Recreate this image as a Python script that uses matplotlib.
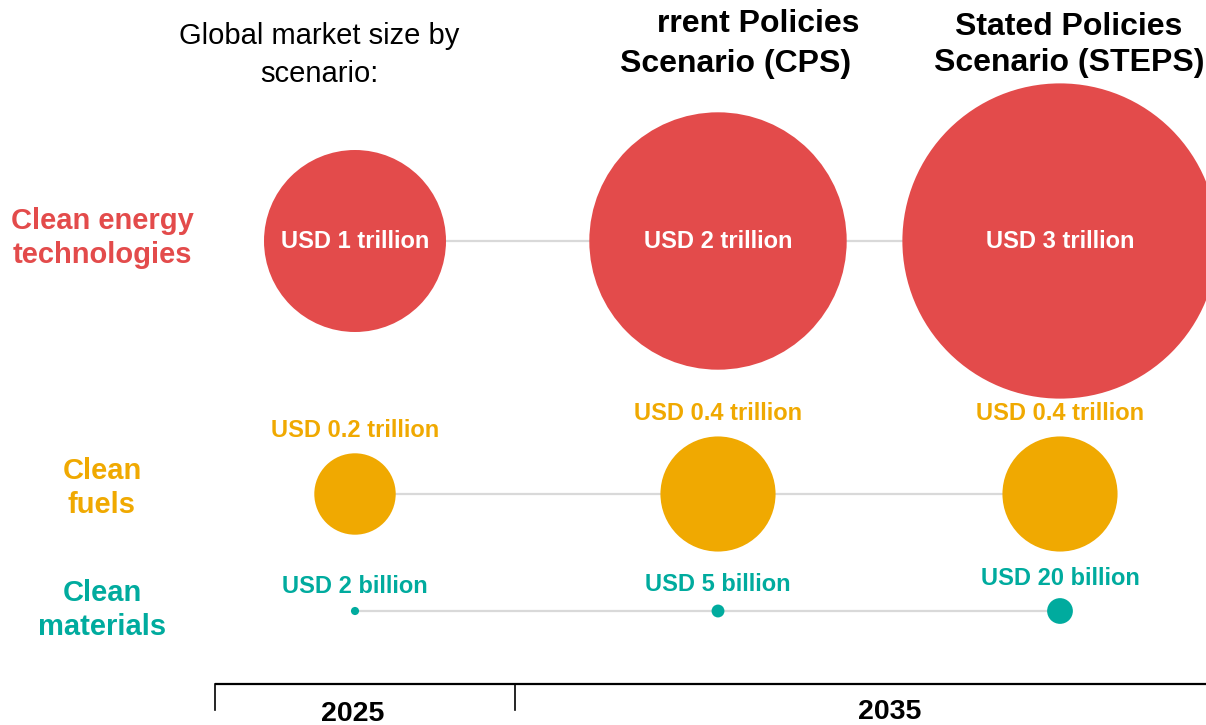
import numpy as np
import matplotlib.pyplot as plt
from matplotlib.patches import Circle


# Market sizes by scenario (trillion USD for the first two rows, billion USD for materials)
scenarios = ["2025", "CPS 2035", "STEPS 2035"]
tech_trillion = [1, 2, 3]
fuels_trillion = [0.2, 0.4, 0.4]
materials_billion = [2, 5, 20]

tech_labels = ["USD 1 trillion", "USD 2 trillion", "USD 3 trillion"]
fuels_labels = ["USD 0.2 trillion", "USD 0.4 trillion", "USD 0.4 trillion"]
materials_labels = ["USD 2 billion", "USD 5 billion", "USD 20 billion"]

row_names = ["Clean energy\ntechnologies", "Clean\nfuels", "Clean\nmaterials"]
year_labels = ["2025", "2035"]


# Colours and layout (axes units are pixels of the saved figure)
RED = "#E34B4B"
ORANGE = "#F0A901"
TEAL = "#00AB9E"
GREY_LINE = "#D9D9D9"
FONT = "Liberation Sans"

COLUMN_X = [355, 718, 1060]
ROW_Y = [241, 494, 611]
ROW_LABEL_Y = [238, 488, 610]
ROW_LABEL_X = 102
RADIUS_PER_SQRT_TRILLION = 91


def bubble_radius(value_trillion):
    # bubble area is proportional to the market size
    return RADIUS_PER_SQRT_TRILLION * np.sqrt(value_trillion)


fig = plt.figure(figsize=(12.06, 7.25), dpi=100)
ax = fig.add_axes([0, 0, 1, 1])
ax.set_xlim(0, 1206)
ax.set_ylim(725, 0)
ax.axis("off")

rows = [
    (tech_trillion, tech_labels, RED, "inside", 0),
    (fuels_trillion, fuels_labels, ORANGE, "above", 23),
    ([v / 1000 for v in materials_billion], materials_labels, TEAL, "above", 20),
]

for row_index, (values, labels, colour, label_place, gap) in enumerate(rows):
    y = ROW_Y[row_index]

    # connector line behind the bubbles
    ax.plot([COLUMN_X[0], COLUMN_X[-1]], [y, y], color=GREY_LINE,
            linewidth=1.6, zorder=1, solid_capstyle="butt")

    for x, value, label in zip(COLUMN_X, values, labels):
        radius = bubble_radius(value)
        ax.add_patch(Circle((x, y), radius, facecolor=colour,
                            edgecolor="none", zorder=2))

        if label_place == "inside":
            ax.text(x, y, label, color="white", fontsize=17,
                    fontweight="bold", family=FONT,
                    ha="center", va="center", zorder=3)
        else:
            ax.text(x, y - radius - gap, label, color=colour, fontsize=17,
                    fontweight="bold", family=FONT,
                    ha="center", va="center", zorder=3)

    ax.text(ROW_LABEL_X, ROW_LABEL_Y[row_index], row_names[row_index],
            color=colour, fontsize=21, fontweight="bold", family=FONT,
            ha="center", va="center", linespacing=1.3)


# Headings
ax.text(319, 55, "Global market size by\nscenario:", fontsize=21,
        family=FONT, ha="center", va="center", linespacing=1.45)
ax.text(657, 24, "rrent Policies", fontsize=23, fontweight="bold",
        family=FONT, ha="left", va="center")
ax.text(736, 64, "Scenario (CPS)", fontsize=23, fontweight="bold",
        family=FONT, ha="center", va="center")
ax.text(1069, 45, "Stated Policies\nScenario (STEPS)", fontsize=23,
        fontweight="bold", family=FONT, ha="center", va="center",
        linespacing=1.3)


# Year bracket along the bottom
ax.plot([215, 1206], [684, 684], color="black", linewidth=1.6,
        solid_capstyle="butt")
for tick_x in [215, 515]:
    ax.plot([tick_x, tick_x], [684, 710], color="black", linewidth=1.2)

ax.text(353, 714, year_labels[0], fontsize=20.5, fontweight="bold",
        family=FONT, ha="center", va="center")
ax.text(890, 712, year_labels[1], fontsize=20.5, fontweight="bold",
        family=FONT, ha="center", va="center")

fig.savefig("out.png", dpi=100)
